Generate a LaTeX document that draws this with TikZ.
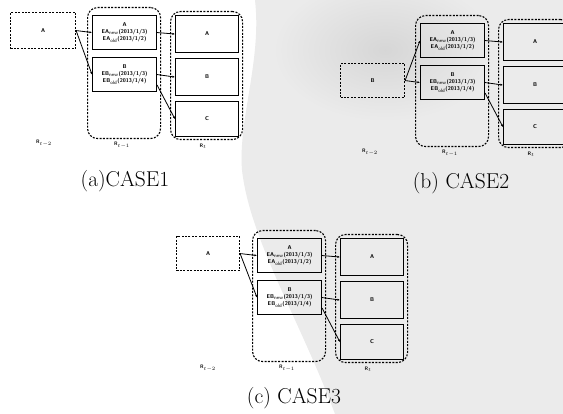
\documentclass[tikz,border=0pt]{standalone}
\usetikzlibrary{arrows.meta,calc}
\definecolor{scanA}{gray}{0.92}
\definecolor{scanB}{gray}{0.84}
\tikzset{
  rbox/.style={draw, line width=1.1pt, anchor=north west, inner sep=0pt, align=center,
    font=\sffamily\bfseries\fontsize{5.5}{7}\selectfont},
  prevbox/.style={draw, dash pattern=on 2pt off 1.4pt, line width=1.1pt, anchor=north west,
    inner sep=0pt, font=\sffamily\bfseries\fontsize{5.5}{7}\selectfont},
  cont/.style={draw, dash pattern=on 2pt off 1.4pt, line width=1.1pt, rounded corners=10pt,
    anchor=north west, inner sep=0pt},
  lab/.style={font=\sffamily\bfseries\fontsize{5}{6}\selectfont, inner sep=0pt},
  conn/.style={line width=0.8pt, -{Latex[length=2.5pt,width=2.2pt]}},
  capt/.style={font=\fontsize{21.5}{24}\selectfont, inner sep=0pt}
}
\newcommand\CaseBody[1]{%
  \node[cont, minimum width=73pt, minimum height=131pt] (#1m1) at (0,0) {};
  \node[rbox, minimum width=64pt, minimum height=34pt] (#1iA) at (5,8)
    {A\\EA$_{\mathsf{new}}$(2013/1/3)\\EA$_{\mathsf{old}}$(2013/1/2)};
  \node[rbox, minimum width=64pt, minimum height=34pt] (#1iB) at (5,50)
    {B\\EB$_{\mathsf{new}}$(2013/1/3)\\EB$_{\mathsf{old}}$(2013/1/4)};
  \node[cont, minimum width=72pt, minimum height=128pt] (#1t) at (83,4) {};
  \node[rbox, minimum width=63pt, minimum height=37pt] (#1tA) at (88,8) {A};
  \node[rbox, minimum width=63pt, minimum height=37pt] (#1tB) at (88,51) {B};
  \node[rbox, minimum width=63pt, minimum height=35pt] (#1tC) at (88,94) {C};
  \node[lab] (#1l1) at (35,138) {R$_{t-1}$};
  \node[lab] (#1l0) at (116,139) {R$_{t}$};
  \draw[conn] (#1iA.east) -- (#1tA.west);
  \draw[conn] (#1iB.east) -- (#1tB.west);
  \draw[conn] ($(#1iB.east)!0.6!(#1iB.south east)$) -- (#1tC.west);
}
\begin{document}
\begin{tikzpicture}[x=1pt,y=-1pt]
\clip (0,0) rectangle (563,414);
\fill[white] (0,0) rectangle (563,414);
% scan texture (approximate)
\fill[scanA] (255,0) -- (563,0) -- (563,414) -- (335,414)
  .. controls (300,320) and (250,240) .. (242,170)
  .. controls (238,120) and (262,60) .. (255,0) -- cycle;
\shade[inner color=scanB, outer color=scanA] (385,50) ellipse [x radius=110pt, y radius=70pt];
% CASE 1
\begin{scope}[shift={(87,7)}]
  \CaseBody{a}
  \node[prevbox, minimum width=65pt, minimum height=36pt] (aP) at (-77,5) {A};
  \node[lab] (al2) at (-43,136) {R$_{t-2}$};
  \draw[conn] (aP.east) -- (aiA.west);
  \draw[conn] (aP.east) -- (aiB.west);
\end{scope}
\node[capt] (capa) at (125,181) {(a)CASE1};
% CASE 2
\begin{scope}[shift={(415,15)}]
  \CaseBody{b}
  \node[prevbox, minimum width=64pt, minimum height=34pt] (bP) at (-75,48) {B};
  \node[lab] (bl2) at (-45,137) {R$_{t-2}$};
  \draw[conn] (bP.east) -- (biA.west);
  \draw[conn] (bP.east) -- (biB.west);
\end{scope}
\node[capt] (capb) at (461,183) {(b) CASE2};
% CASE 3
\begin{scope}[shift={(252,230)}]
  \CaseBody{c}
  \node[prevbox, minimum width=63pt, minimum height=34pt] (cP) at (-76,6) {A};
  \node[lab] (cl2) at (-44,138) {R$_{t-2}$};
  \draw[conn] (cP.east) -- (ciA.west);
  \draw[conn] (cP.east) -- (ciB.west);
\end{scope}
\node[capt] (capc) at (294,398) {(c) CASE3};
\end{tikzpicture}
\end{document}
